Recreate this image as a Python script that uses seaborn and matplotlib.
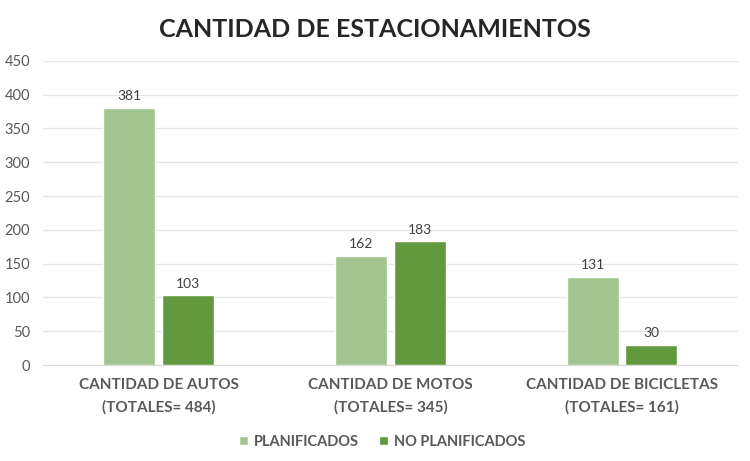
import pandas as pd
import seaborn as sns
import matplotlib.pyplot as plt

sns.set_style("white")
plt.rcParams['font.family'] = ['Lato', 'DejaVu Sans']

# Data
categorias = ["CANTIDAD DE AUTOS\n(TOTALES= 484)",
              "CANTIDAD DE MOTOS\n(TOTALES= 345)",
              "CANTIDAD DE BICICLETAS\n(TOTALES= 161)"]
planificados = [381, 162, 131]
no_planificados = [103, 183, 30]
series = ["PLANIFICADOS", "NO PLANIFICADOS"]

df = pd.DataFrame({
    "categoria": categorias * 2,
    "serie": [series[0]] * 3 + [series[1]] * 3,
    "valor": planificados + no_planificados,
})

colores = ["#A2C590", "#62993E"]
gris = "#595959"

fig = plt.figure(figsize=(7.5, 4.61), dpi=100)
ax = fig.add_axes([0.057, 0.208, 0.927, 0.66])

ax.yaxis.grid(True, color="#e6e6e6", linewidth=1)
ax.set_axisbelow(True)

sns.barplot(data=df, x="categoria", y="valor", hue="serie", palette=colores,
            width=0.505, gap=0.11, ax=ax, saturation=1)

for cont in ax.containers:
    ax.bar_label(cont, padding=4, fontsize=10, color="#404040")

ax.set_ylim(0, 450)
ax.set_yticks(range(0, 451, 50))
ax.set_xlabel("")
ax.set_ylabel("")
ax.tick_params(axis="y", labelsize=10.5, labelcolor=gris, length=0, pad=9)
ax.tick_params(axis="x", labelsize=11, labelcolor=gris, length=0, pad=9)
for lbl in ax.get_xticklabels():
    lbl.set_fontweight("bold")
    lbl.set_linespacing(1.7)

sns.despine(ax=ax, left=True)
ax.spines["bottom"].set_color("#d9d9d9")

fig.suptitle("CANTIDAD DE ESTACIONAMIENTOS", fontsize=18, fontweight="bold", y=0.96)

ax.legend(loc="upper center", bbox_to_anchor=(0.488, -0.185), ncol=2, frameon=False,
          prop={"size": 10.5, "weight": "bold"}, labelcolor=gris,
          handlelength=0.6, handleheight=0.6, handletextpad=0.4, columnspacing=1.4)

fig.savefig("out.png", dpi=100)
